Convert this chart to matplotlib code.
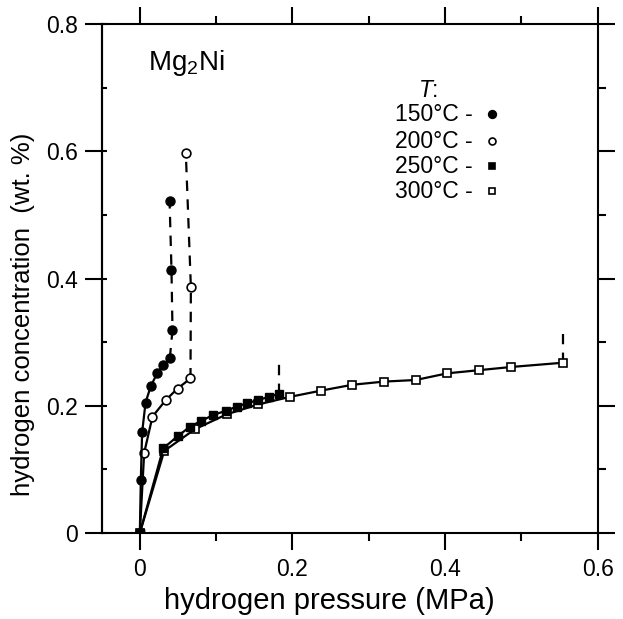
import matplotlib
matplotlib.use("Agg")
import matplotlib.pyplot as plt
from matplotlib.ticker import FixedLocator, NullFormatter

plt.rcParams['font.family'] = ['Liberation Sans', 'DejaVu Sans']
plt.rcParams['mathtext.fontset'] = 'custom'
plt.rcParams['mathtext.rm'] = 'Liberation Sans'
plt.rcParams['mathtext.it'] = 'Liberation Sans:italic'
plt.rcParams['lines.scale_dashes'] = False

# ---- data (pressure in MPa, concentration in wt. %) ----
p150 = [0.0, 0.0013, 0.003, 0.0075, 0.0144, 0.0227, 0.0306, 0.0393]
c150 = [0.0, 0.083, 0.158, 0.205, 0.231, 0.251, 0.264, 0.2745]
p150_d = [0.0393, 0.0428, 0.0415, 0.039]
c150_d = [0.2745, 0.319, 0.413, 0.522]

p200 = [0.0, 0.0057, 0.0166, 0.034, 0.0494, 0.0664]
c200 = [0.0, 0.126, 0.183, 0.209, 0.227, 0.243]
p200_d = [0.0664, 0.0669, 0.0603]
c200_d = [0.243, 0.387, 0.597]

p250 = [0.0, 0.0306, 0.0494, 0.0656, 0.080, 0.0962, 0.1124, 0.1268, 0.1407,
        0.155, 0.169, 0.182]
c250 = [0.0, 0.133, 0.152, 0.167, 0.176, 0.1855, 0.192, 0.1985, 0.204,
        0.209, 0.214, 0.2185]
p250_d = [0.182, 0.182]
c250_d = [0.2185, 0.267]

p300 = [0.0, 0.032, 0.072, 0.1137, 0.155, 0.1967, 0.237, 0.2785, 0.320,
        0.3615, 0.403, 0.445, 0.487, 0.555]
c300 = [0.0, 0.129, 0.163, 0.1865, 0.202, 0.214, 0.2237, 0.233, 0.238,
        0.2405, 0.251, 0.256, 0.261, 0.2677]
p300_d = [0.555, 0.555]
c300_d = [0.2677, 0.313]

temps = ['150°C -', '200°C -', '250°C -', '300°C -']

x_major = [0.0, 0.2, 0.4, 0.6]
x_minor = [0.1, 0.3, 0.5]
y_major = [0.0, 0.2, 0.4, 0.6, 0.8]
y_minor = [0.1, 0.3, 0.5, 0.7]
y_inner = [0.0, 0.1, 0.2, 0.3, 0.4, 0.5, 0.6, 0.7, 0.8]
x_ticklabels = ['0', '0.2', '0.4', '0.6']
y_ticklabels = ['0', '0.2', '0.4', '0.6', '0.8']

# ---- figure ----
fig = plt.figure(figsize=(6.23, 6.19), dpi=100)
ax = fig.add_axes([0.1632, 0.1389, 0.7961, 0.8223])

lw = 1.6
dash = (0, (7.5, 6.0))

ax.plot(p300_d, c300_d, color='black', lw=lw, ls=dash)
ax.plot(p300, c300, color='black', lw=lw, marker='s', ms=6.0, mfc='white',
        mec='black', mew=1.2)
ax.plot(p250_d, c250_d, color='black', lw=lw, ls=dash)
ax.plot(p250, c250, color='black', lw=lw, marker='s', ms=6.3, mfc='black',
        mec='black', mew=1.0)
ax.plot(p200_d, c200_d, color='black', lw=lw, ls=dash, marker='o', ms=6.3,
        mfc='white', mec='black', mew=1.2, markevery=[1, 2])
ax.plot(p200, c200, color='black', lw=lw, marker='o', ms=6.3, mfc='white',
        mec='black', mew=1.2, markevery=list(range(1, len(p200))))
ax.plot(p150_d, c150_d, color='black', lw=lw, ls=dash, marker='o', ms=6.5,
        mfc='black', mec='black', markevery=[1, 2, 3])
ax.plot(p150, c150, color='black', lw=lw, marker='o', ms=6.5, mfc='black',
        mec='black', markevery=list(range(1, len(p150))))
ax.plot([p250[0]], [c250[0]], ls='none', marker='s', ms=6.3, mfc='black',
        mec='black')

ax.set_xlim(-0.05, 0.6)
ax.set_ylim(0, 0.8)

ax.xaxis.set_major_locator(FixedLocator(x_major))
ax.xaxis.set_minor_locator(FixedLocator(x_minor))
ax.yaxis.set_major_locator(FixedLocator(y_major))
ax.yaxis.set_minor_locator(FixedLocator(y_minor))
ax.set_xticklabels(x_ticklabels)
ax.set_yticklabels(y_ticklabels)

ax.tick_params(which='both', direction='out', top=True, right=True, width=1.5,
               color='black')
ax.tick_params(which='major', length=12.2, labelsize=16.5)
ax.tick_params(which='minor', length=5.8)
ax.tick_params(axis='y', which='minor', left=False)
ax.tick_params(axis='x', which='major', pad=6)
ax.tick_params(axis='y', which='major', pad=5)
for s in ax.spines.values():
    s.set_linewidth(1.5)

# small inward ticks along the left axis
sec = ax.secondary_yaxis('left')
sec.yaxis.set_major_locator(FixedLocator(y_inner))
sec.yaxis.set_major_formatter(NullFormatter())
sec.tick_params(direction='in', length=3.3, width=1.5)
sec.spines['left'].set_linewidth(1.5)

ax.set_xlabel('hydrogen pressure (MPa)', fontsize=21)
ax.xaxis.set_label_coords(0.458, -0.106)
ax.set_ylabel('hydrogen concentration  (wt. %)', fontsize=18.5)
ax.yaxis.set_label_coords(-0.134, 0.43)

ax.text(0.093, 0.923, 'Mg$_2$Ni', transform=ax.transAxes, fontsize=20,
        ha='left', va='center')

ax.text(0.659, 0.869, '$T$:', transform=ax.transAxes, fontsize=16.5,
        ha='center', va='center')
row_y = [0.8226, 0.7701, 0.721, 0.6719]
leg_styles = [dict(marker='o', mfc='black', ms=5.5),
              dict(marker='o', mfc='white', ms=5.0),
              dict(marker='s', mfc='black', ms=5.0),
              dict(marker='s', mfc='white', ms=5.0)]
for lab, yy, st in zip(temps, row_y, leg_styles):
    ax.text(0.7486, yy, lab, transform=ax.transAxes, fontsize=16.5,
            ha='right', va='center')
    ax.plot([0.786], [yy], transform=ax.transAxes, ls='none', mec='black',
            mew=1.2, clip_on=False, **st)

fig.savefig('out.png', dpi=100)
